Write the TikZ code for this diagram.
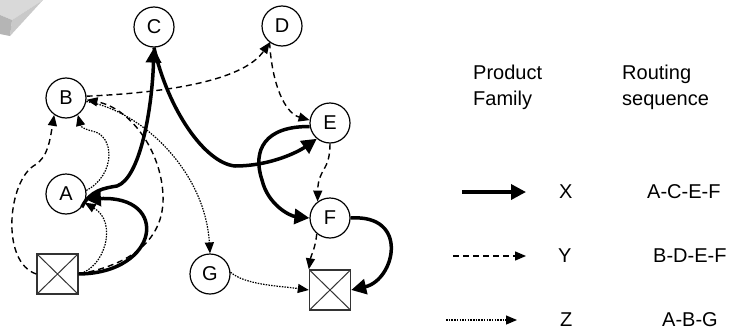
\documentclass[tikz,border=0pt]{standalone}
\usepackage{fontspec}
\setmainfont{Liberation Sans}
\usetikzlibrary{arrows.meta,calc}
\begin{document}
\begin{tikzpicture}[x=1pt,y=-1pt,
  station/.style={circle,draw,line width=1.2pt,minimum size=40pt,inner sep=0pt,fill=white,font=\fontsize{20}{24}\selectfont},
  machine/.style={rectangle,draw=black!80,line width=1.4pt,minimum width=41pt,minimum height=40pt,inner sep=0pt,fill=white,
     path picture={\draw[line width=1pt] (path picture bounding box.north west) -- (path picture bounding box.south east) (path picture bounding box.north east) -- (path picture bounding box.south west);}},
  xflow/.style={line width=3.5pt,-{Triangle[length=15pt,width=15pt]}},
  yflow/.style={line width=1.4pt,dash pattern=on 6pt off 4pt,-{Triangle[length=11pt,width=9pt]}},
  zflow/.style={line width=1.2pt,dash pattern=on 1.5pt off 1.2pt,-{Triangle[length=11pt,width=9pt]}},
  lbl/.style={font=\fontsize{20}{24}\selectfont,inner sep=0pt},
]
\useasboundingbox (0,0) rectangle (735,332);
% corner decoration
\fill[gray!30] (0,0) -- (43,0) -- (12,20) -- (0,15) -- cycle;
\fill[gray!42] (12,20) -- (43,0) -- (10,36) -- cycle;
\fill[gray!58] (0,15) -- (12,20) -- (10,36) -- (0,34) -- cycle;

% nodes
\node[station] (C) at (154,27) {C};
\node[station] (D) at (282,26) {D};
\node[station] (B) at (66,98) {B};
\node[station] (E) at (330,123) {E};
\node[station] (A) at (66,194) {A};
\node[station] (F) at (330,218) {F};
\node[station] (G) at (210,274) {G};
\node[machine] (S1) at (57.5,274) {};
\node[machine] (S2) at (330,290) {};

% X flow
\draw[xflow] (S1.east) .. controls (160,273) and (170,195) .. (A.-15);
\draw[xflow] (A.-40) .. controls (90,190) and (105,188) .. (117,186) .. controls (140,178) and (152,110) .. (C.south);
\draw[xflow] (C.south) .. controls (168,110) and (205,163) .. (235,166) .. controls (270,166) and (298,152) .. (E.-130);
\draw[xflow] (E.190) .. controls (265,126) and (252,150) .. (262,180) .. controls (268,205) and (290,216) .. (F.west);
\draw[xflow] (F.east) .. controls (410,214) and (395,280) .. (S2.east);

% Y flow
\draw[yflow] (S1.west) .. controls (0,262) and (8,180) .. (35,165) .. controls (48,157) and (50,140) .. (B.-125);
\draw[yflow] (S1.east) .. controls (130,265) and (165,240) .. (163,195) .. controls (161,150) and (130,108) .. (B.-5);
\draw[yflow] (B.5) .. controls (180,92) and (245,78) .. (D.-127);
\draw[yflow] (D.-127) .. controls (272,85) and (285,113) .. (E.172);
\draw[yflow] (E.south) .. controls (330,172) and (318,168) .. (F.127);
\draw[yflow] (F.-130) .. controls (315,250) and (311,255) .. (S2.north west);

% Z flow
\draw[zflow] (S1.east) .. controls (105,268) and (118,222) .. (A.-25);
\draw[zflow] (A.10) .. controls (116,175) and (115,135) .. (92,131) .. controls (84,129) and (81,127) .. (B.-55);
\draw[zflow] (B.-10) .. controls (140,110) and (205,170) .. (G.north);
\draw[zflow] (G.5) .. controls (245,285) and (280,286) .. (S2.west);

% legend
\node[lbl,anchor=base west] (pf1) at (473,79) {Product};
\node[lbl,anchor=base west] (pf2) at (473,105) {Family};
\node[lbl,anchor=base west] (rs1) at (622,79) {Routing};
\node[lbl,anchor=base west] (rs2) at (622,105) {sequence};
\coordinate (xs) at (462,192); \coordinate (xe) at (526,192);
\coordinate (ys) at (453,256); \coordinate (ye) at (526,256);
\coordinate (zs) at (446,320); \coordinate (ze) at (517,320);
\draw[xflow] (xs) -- (xe);
\draw[yflow] (ys) -- (ye);
\draw[zflow] (zs) -- (ze);
\node[lbl,anchor=west] (lx) at (559,192) {X};
\node[lbl,anchor=west] (sx) at (647,192) {A-C-E-F};
\node[lbl,anchor=west] (ly) at (558,256) {Y};
\node[lbl,anchor=west] (sy) at (653,256) {B-D-E-F};
\node[lbl,anchor=west] (lz) at (560,320) {Z};
\node[lbl,anchor=west] (sz) at (662,320) {A-B-G};
\end{tikzpicture}
\end{document}
